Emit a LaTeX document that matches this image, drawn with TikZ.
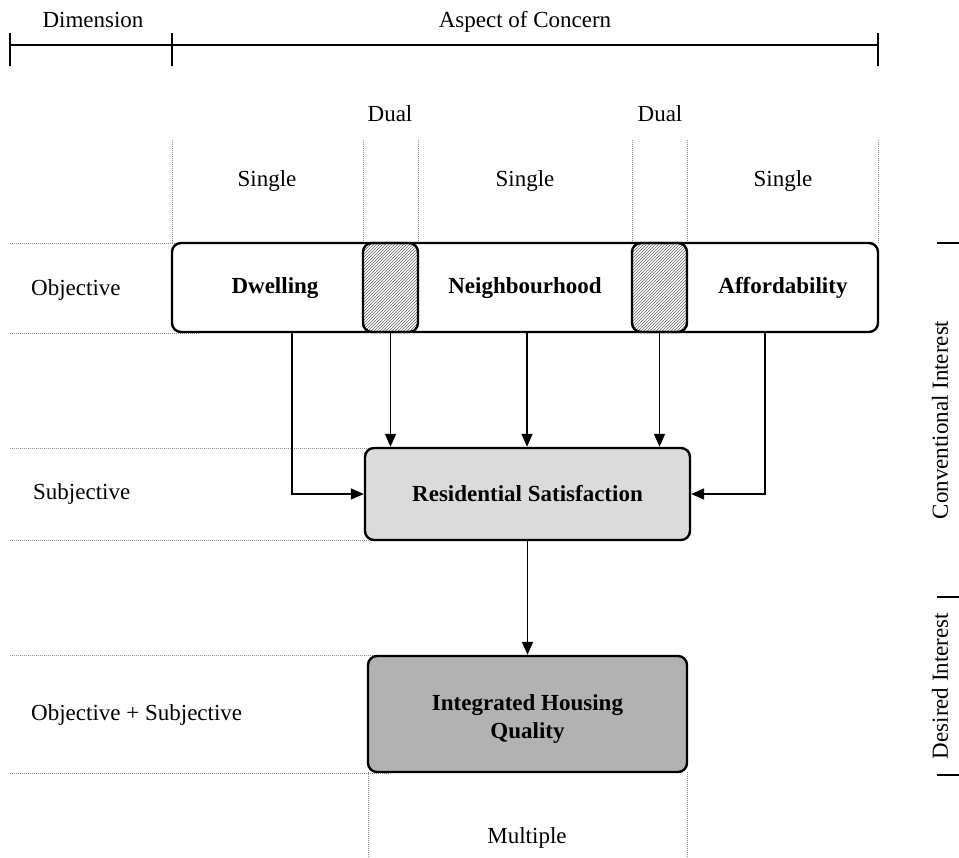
\documentclass[tikz,border=0pt]{standalone}
\usepackage{fontspec}
\setmainfont{Liberation Serif}
\usetikzlibrary{arrows.meta,patterns}
\begin{document}
\begin{tikzpicture}[x=1pt,y=-1pt,
  every node/.style={font=\fontsize{23}{28}\selectfont, inner sep=0pt},
  label/.style={anchor=base},
  guide/.style={draw=black!45, line width=0.8pt, dash pattern=on 1pt off 1pt},
  axis/.style={line width=1.8pt},
  box/.style={draw, line width=2.4pt, rounded corners=9pt, minimum width=#1},
  dualbox/.style={draw, line width=2.4pt, rounded corners=9pt, minimum width=55pt,
    minimum height=89pt, pattern=north east lines, pattern color=black!60},
  title/.style={font=\fontsize{23}{28}\selectfont\bfseries, align=center},
  arr/.style={line width=1.5pt, -{Triangle[length=13pt,width=11pt]}}
]
\useasboundingbox (0,0) rectangle (959,858);

% header axis
\draw[axis] (10,45) -- (878,45);
\foreach \x in {10,172,878} \draw[axis] (\x,33) -- (\x,66);
\node[label] (hdim) at (93,28) {Dimension};
\node[label] (hasp) at (525,28) {Aspect of Concern};

% right axis ticks
\foreach \y in {243,597,775} \draw[axis] (937,\y) -- (959,\y);
\node[rotate=90] (conv) at (940,420) {Conventional Interest};
\node[rotate=90] (desi) at (940,686) {Desired Interest};

% column guides
\foreach \x in {172,363,418,632,687,878} \draw[guide] (\x,140) -- (\x,243);
\foreach \x in {368,687} \draw[guide] (\x,772) -- (\x,858);
% row guides
\draw[guide] (10,243) -- (175,243);
\draw[guide] (10,333) -- (200,333);
\draw[guide] (10,448) -- (383,448);
\draw[guide] (10,540) -- (375,540);
\draw[guide] (10,655) -- (390,655);
\draw[guide] (10,773) -- (390,773);

% column labels
\node[label] (dual1l) at (390,122) {Dual};
\node[label] (dual2l) at (660,122) {Dual};
\node[label] (sing1) at (267,187) {Single};
\node[label] (sing2) at (525,187) {Single};
\node[label] (sing3) at (783,187) {Single};
\node[label] (mult) at (527,843) {Multiple};

% row labels
\node[label, anchor=base west] (robj) at (31,296) {Objective};
\node[label, anchor=base west] (rsub) at (33,500) {Subjective};
\node[label, anchor=base west] (rboth) at (31,720) {Objective + Subjective};

% aspect boxes
\node[box=706pt, minimum height=89pt, fill=white] (obj) at (525,287.5) {};
\node[dualbox] (dual1) at (390.5,287.5) {};
\node[dualbox] (dual2) at (659.5,287.5) {};
\node[title] (dwell) at (275,288) {Dwelling};
\node[title] (neigh) at (525,288) {Neighbourhood};
\node[title] (afford) at (783,288) {Affordability};

% outcome boxes
\node[box=325pt, minimum height=92pt, fill=black!14] (res) at (527.5,494) {};
\node[title] (rest) at (527.5,494) {Residential Satisfaction};
\node[box=319pt, minimum height=116pt, fill=black!30] (ihq) at (527.5,714) {};
\node[title] (ihqt) at (527.5,719) {Integrated Housing\\Quality};

% connectors
\coordinate (cl) at (292,0);
\coordinate (cr) at (765,0);
\coordinate (cn) at (527,0);
\draw[arr] (obj.south -| cl) |- (res.west);
\draw[arr] (obj.south -| cr) |- (res.east);
\draw[arr] (obj.south -| dual1) -- (res.north -| dual1);
\draw[arr] (obj.south -| cn) -- (res.north -| cn);
\draw[arr] (obj.south -| dual2) -- (res.north -| dual2);
\draw[arr] (res.south) -- (ihq.north);
\end{tikzpicture}
\end{document}
